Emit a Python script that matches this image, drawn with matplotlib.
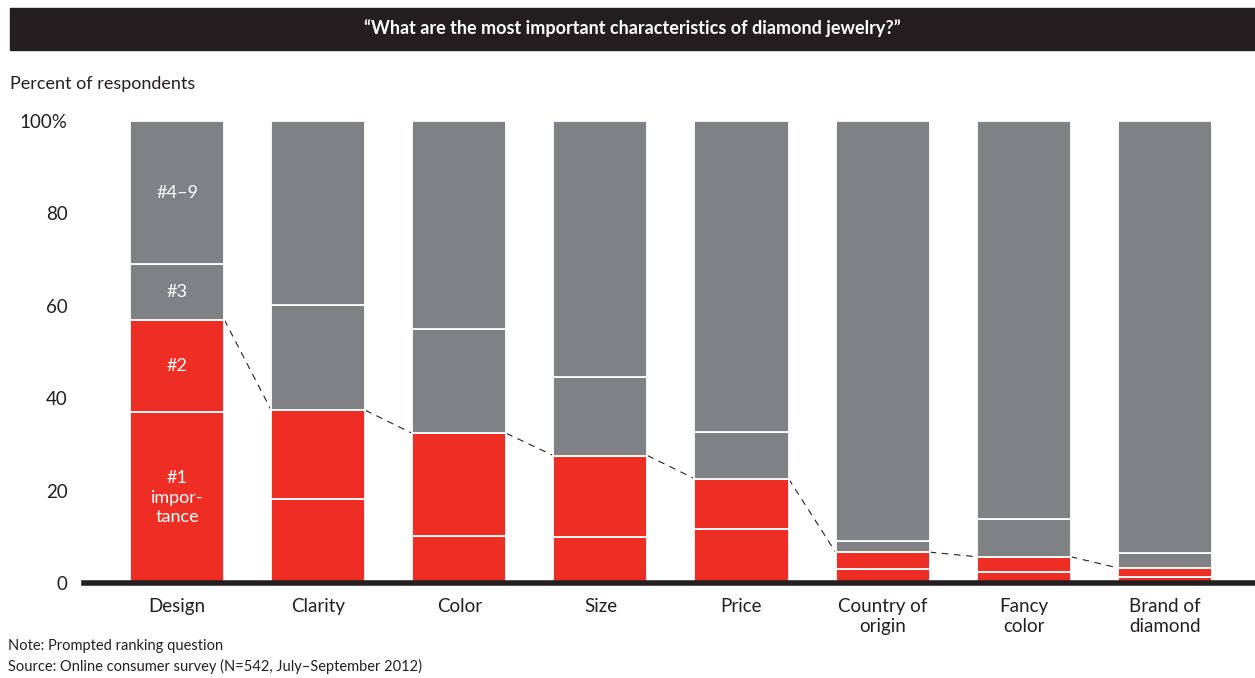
import numpy as np
import matplotlib.pyplot as plt
from matplotlib.patches import Rectangle

# Data (percent of respondents, cumulative boundaries)
categories = ['Design', 'Clarity', 'Color', 'Size', 'Price',
              'Country of\norigin', 'Fancy\ncolor', 'Brand of\ndiamond']
rank1 = [37.0, 18.3, 10.2, 10.0, 11.7, 3.0, 2.4, 1.3]
rank2 = [20.0, 19.1, 22.2, 17.6, 10.9, 3.7, 3.3, 2.0]
rank3 = [12.0, 22.8, 22.6, 17.0, 10.0, 2.4, 8.1, 3.2]
rank4_9 = [100 - a - b - c for a, b, c in zip(rank1, rank2, rank3)]
segment_labels = ['#1\nimpor-\ntance', '#2', '#3', '#4–9']
yticks = [0, 20, 40, 60, 80, 100]
ytick_labels = ['0', '20', '40', '60', '80', '100%']

RED = '#EE2E24'
GRAY = '#808184'

plt.rcParams['font.family'] = ['Lato', 'DejaVu Sans']

fig = plt.figure(figsize=(12.55, 6.78), dpi=100)
ax = fig.add_axes([0.067, 0.140, 0.933, 0.6815])

x = np.arange(len(categories))
width = 0.667
series = [rank1, rank2, rank3, rank4_9]
colors = [RED, RED, GRAY, GRAY]
bottom = np.zeros(len(categories))
for vals, col in zip(series, colors):
    ax.bar(x, vals, width, bottom=bottom, color=col, edgecolor='white',
           linewidth=1.3, zorder=2)
    bottom += np.array(vals)

# segment labels on the first bar
bottom = 0
for vals, lab in zip(series, segment_labels):
    ax.text(x[0], bottom + vals[0] / 2, lab, ha='center', va='center',
            color='white', fontsize=13, linespacing=1.3, zorder=3)
    bottom += vals[0]

# dashed connector between tops of the red segments
red_top = np.array(rank1) + np.array(rank2)
for i in range(len(categories) - 1):
    ax.plot([x[i] + width / 2, x[i + 1] - width / 2],
            [red_top[i], red_top[i + 1]], color='#231f20', lw=0.8,
            ls=(0, (6, 5)), zorder=1)

ax.set_xlim(-0.66, 7.64)
ax.set_ylim(0, 100)
ax.set_yticks(yticks)
ax.set_yticklabels(ytick_labels, fontsize=13.5, color='#231f20')
ax.set_xticks(x)
ax.set_xticklabels(categories, fontsize=13.5, color='#231f20', linespacing=1.2)
ax.tick_params(axis='x', length=0, pad=11)
ax.tick_params(axis='y', length=0, pad=12)
for s in ['top', 'right', 'left']:
    ax.spines[s].set_visible(False)
ax.spines['bottom'].set_linewidth(4)
ax.spines['bottom'].set_color('#231f20')
ax.spines['bottom'].set_zorder(4)

# title bar
fig.patches.append(Rectangle((10 / 1255, 1 - 50 / 678), 1 - 10 / 1255, 42 / 678,
                             transform=fig.transFigure, color='#231f20', zorder=0))
fig.text(0.504, 1 - 28 / 678,
         '\u201cWhat are the most important characteristics of diamond jewelry?\u201d',
         ha='center', va='center', color='white', fontsize=13, fontweight='bold')

fig.text(10 / 1255, 1 - 84 / 678, 'Percent of respondents', ha='left',
         va='center', fontsize=13, color='#231f20')
fig.text(8 / 1255, 1 - 646 / 678, 'Note: Prompted ranking question', ha='left',
         va='center', fontsize=10.5, color='#231f20')
fig.text(8 / 1255, 1 - 666 / 678,
         'Source: Online consumer survey (N=542, July\u2013September 2012)',
         ha='left', va='center', fontsize=10.5, color='#231f20')

fig.savefig('out.png', dpi=100)
